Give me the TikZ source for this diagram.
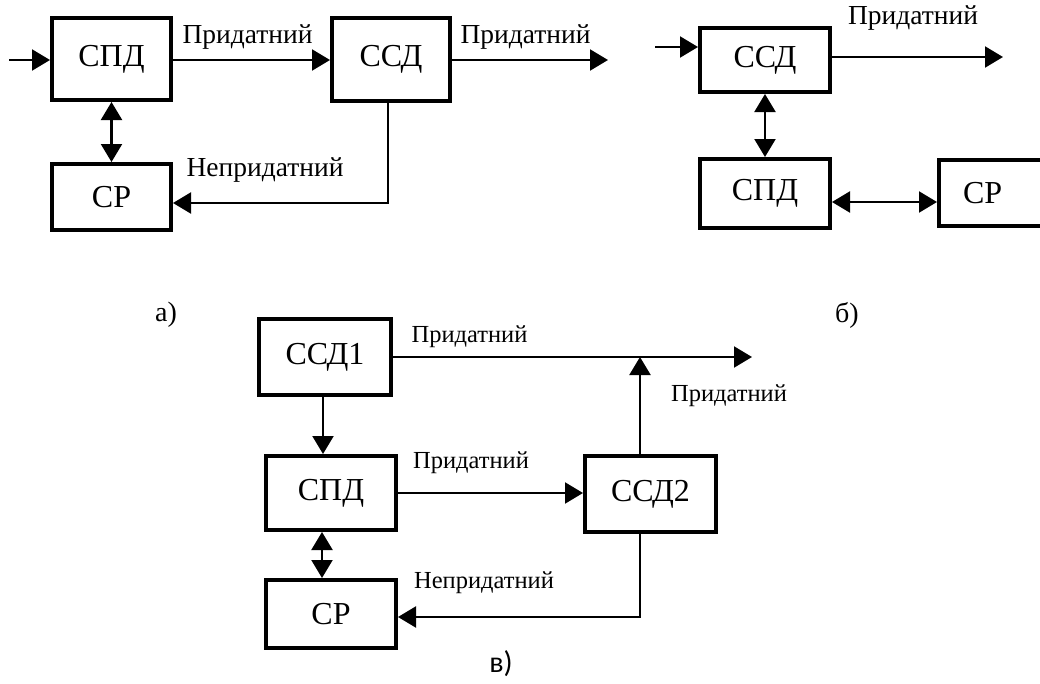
\documentclass[tikz,border=0pt]{standalone}
\usepackage{fontspec}
\setmainfont{Liberation Serif}
\newfontfamily\capfont{Carlito}
\usetikzlibrary{arrows.meta}
\tikzset{
  box/.style={draw, line width=4pt, inner sep=0pt, font=\fontsize{32}{32}\selectfont},
  arr/.style={line width=2.2pt, -{Triangle[length=18pt,width=21pt]}},
  darr/.style={line width=2.2pt, {Triangle[length=18pt,width=21pt]}-{Triangle[length=18pt,width=21pt]}},
  lblA/.style={font=\fontsize{27.5}{27.5}\selectfont, inner sep=0pt},
  lblC/.style={font=\fontsize{24.5}{24.5}\selectfont, inner sep=0pt},
  partlbl/.style={font=\fontsize{28}{28}\selectfont, inner sep=0pt}
}
\begin{document}
\begin{tikzpicture}[x=1pt, y=-1pt]
\useasboundingbox (0,0) rectangle (1040,683);
\clip (0,0) rectangle (1040,683);
% ---------- a) ----------
\node[box, minimum width=119pt, minimum height=82pt] (spdA) at (111.5,59) {СПД};
\node[box, minimum width=118pt, minimum height=83pt] (ssdA) at (391,59.5) {ССД};
\node[box, minimum width=119pt, minimum height=66pt] (crA) at (111.5,197) {СР};
\coordinate (inA) at (9,60);
\coordinate (outA) at (608,60);
\coordinate (fbA) at (388,203);
\draw[arr] (inA) -- (inA -| spdA.west);
\draw[arr] (spdA.east |- inA) -- (ssdA.west |- inA);
\draw[arr] (ssdA.east |- outA) -- (outA);
\draw[darr] (spdA.south) -- (crA.north);
\draw[arr] (ssdA.south -| fbA) -- (fbA) -- (fbA -| crA.east);
\node[lblA] (la1) at (247.5,37) {Придатний};
\node[lblA] (la2) at (525.5,37) {Придатний};
\node[lblA] (la3) at (265,170) {Непридатний};
\node[partlbl] (pa) at (166,315) {а)};
% ---------- б) ----------
\node[box, minimum width=130pt, minimum height=64pt] (ssdB) at (765,60) {ССД};
\node[box, minimum width=130pt, minimum height=69pt] (spdB) at (765,193.5) {СПД};
\node[box, minimum height=66pt, anchor=west, text width=90pt, inner xsep=24pt, align=left] (crB) at (937,193) {СР};
\coordinate (inB) at (655,47);
\coordinate (outB) at (1003,57);
\coordinate (hB) at (0,202);
\draw[arr] (inB) -- (inB -| ssdB.west);
\draw[arr] (ssdB.east |- outB) -- (outB);
\draw[darr] (ssdB.south) -- (spdB.north);
\draw[darr] (spdB.east |- hB) -- (crB.west |- hB);
\node[lblA] (lb1) at (913,18) {Придатний};
\node[partlbl] (pb) at (847,315) {б)};
% ---------- в) ----------
\node[box, minimum width=132pt, minimum height=76pt] (ssd1) at (325,357) {ССД1};
\node[box, minimum width=130pt, minimum height=74pt] (spdC) at (331,493) {СПД};
\node[box, minimum width=131pt, minimum height=76pt] (ssd2) at (650.5,494) {ССД2};
\node[box, minimum width=130pt, minimum height=68pt] (crC) at (331,614) {СР};
\coordinate (outC) at (752,357);
\coordinate (upC) at (640,357);
\coordinate (fbC) at (640,617);
\coordinate (vC) at (323,0);
\coordinate (dC) at (322,0);
\draw[arr] (ssd1.east |- outC) -- (outC);
\draw[arr] (ssd1.south -| vC) -- (spdC.north -| vC);
\draw[arr] (spdC.east) -- (spdC.east -| ssd2.west);
\draw[arr] (ssd2.north -| upC) -- (upC);
\draw[darr] (spdC.south -| dC) -- (crC.north -| dC);
\draw[arr] (ssd2.south -| fbC) -- (fbC) -- (fbC -| crC.east);
\node[lblC] (lc1) at (469.5,337) {Придатний};
\node[lblC] (lc2) at (471,463) {Придатний};
\node[lblC] (lc3) at (729,396) {Придатний};
\node[lblC] (lc4) at (484,583) {Непридатний};
\node[inner sep=0pt, font=\capfont\fontsize{30}{30}\selectfont] (pc) at (501,664) {в)};
\end{tikzpicture}
\end{document}
